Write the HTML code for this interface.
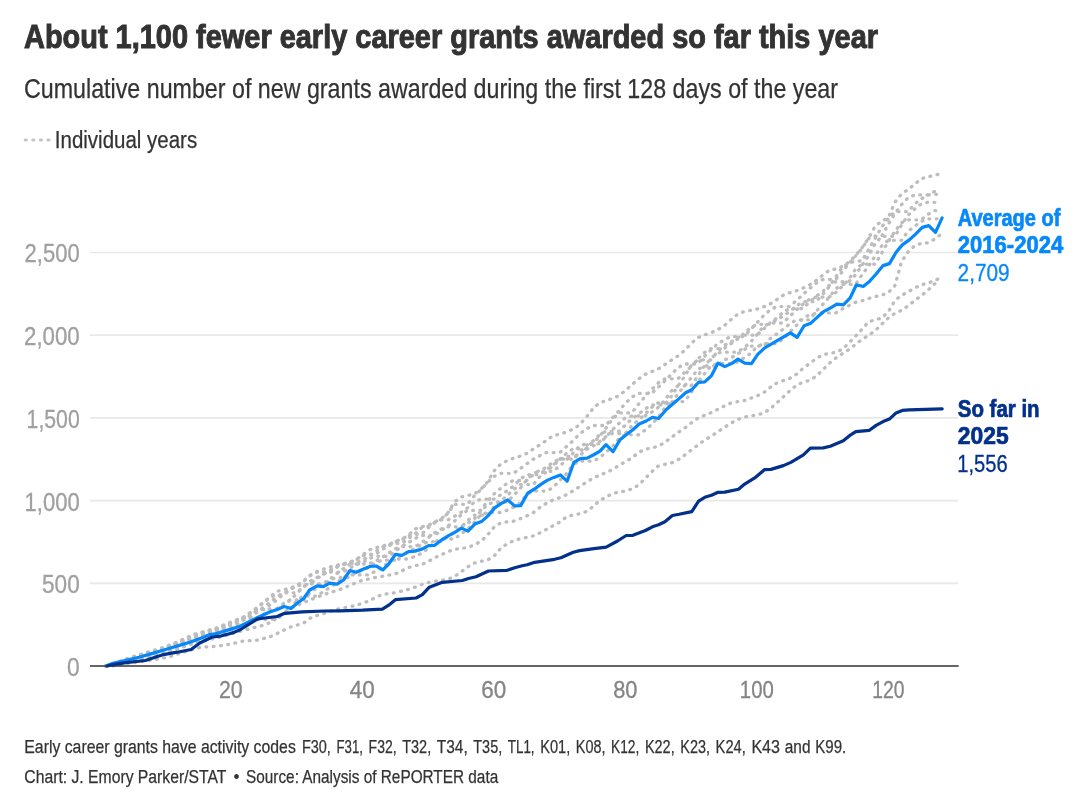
<!DOCTYPE html>
<html><head><meta charset="utf-8"><title>Early career grants</title>
<style>
html,body{margin:0;padding:0;background:#fff;}
body{width:1082px;height:808px;overflow:hidden;font-family:"Liberation Sans",sans-serif;}
svg{display:block;font-family:"Liberation Sans",sans-serif;will-change:transform;}
</style></head><body>
<svg width="1082" height="808" viewBox="0 0 1082 808">
<rect width="1082" height="808" fill="#fff"/>
<g id="grid"><line x1="90" x2="958" y1="583.30" y2="583.30" stroke="#e8e8e8" stroke-width="1.7"/><line x1="90" x2="958" y1="500.60" y2="500.60" stroke="#e8e8e8" stroke-width="1.7"/><line x1="90" x2="958" y1="417.90" y2="417.90" stroke="#e8e8e8" stroke-width="1.7"/><line x1="90" x2="958" y1="335.20" y2="335.20" stroke="#e8e8e8" stroke-width="1.7"/><line x1="90" x2="958" y1="252.50" y2="252.50" stroke="#e8e8e8" stroke-width="1.7"/></g>
<g id="legend"><line x1="25.3" x2="50" y1="140" y2="140" stroke="#c4c4c4" stroke-width="3.2" stroke-linecap="round" stroke-dasharray="1 6.55"/></g>
<g id="grays"><polyline points="105.9,666.0 112.5,663.7 119.1,661.5 125.6,659.2 132.2,656.9 138.8,654.8 145.4,652.9 151.9,650.9 158.5,649.1 165.1,646.8 171.7,644.3 178.2,641.5 184.8,638.5 191.4,635.5 197.9,633.1 204.5,631.4 211.1,629.6 217.7,627.7 224.2,624.8 230.8,622.0 237.4,619.5 244.0,616.7 250.6,612.2 257.1,607.5 263.7,602.2 270.3,596.6 276.9,591.3 283.4,589.8 290.0,588.4 296.6,585.4 303.1,581.4 309.7,575.4 316.3,571.8 322.9,569.3 329.5,567.1 336.0,565.5 342.6,563.9 349.2,562.5 355.8,559.6 362.3,555.3 368.9,550.1 375.5,547.8 382.1,546.0 388.6,544.7 395.2,541.5 401.8,539.2 408.4,535.2 414.9,529.1 421.5,526.7 428.1,525.5 434.6,522.0 441.2,518.8 447.8,512.9 454.4,502.0 461.0,497.0 467.5,495.5 474.1,494.1 480.7,489.4 487.2,482.3 493.8,471.2 500.4,464.5 507.0,460.7 513.6,458.1 520.1,456.2 526.7,453.5 533.3,449.0 539.9,444.8 546.4,440.4 553.0,435.7 559.6,434.2 566.1,432.1 572.7,429.3 579.3,425.0 585.9,417.8 592.5,409.2 599.0,403.1 605.6,400.8 612.2,398.6 618.8,395.8 625.3,390.6 631.9,384.6 638.5,379.0 645.0,374.5 651.6,371.7 658.2,368.9 664.8,364.6 671.4,360.1 677.9,356.0 684.5,350.6 691.1,343.6 697.6,337.9 704.2,335.0 710.8,332.9 717.4,329.9 724.0,325.8 730.5,320.1 737.1,314.6 743.7,311.7 750.2,310.4 756.8,309.1 763.4,307.0 770.0,304.0 776.5,299.8 783.1,295.4 789.7,292.7 796.3,290.9 802.9,288.2 809.4,284.9 816.0,280.6 822.6,275.2 829.1,270.4 835.7,269.0 842.3,266.5 848.9,262.2 855.5,255.6 862.0,247.8 868.6,238.1 875.2,226.1 881.8,221.2 888.3,217.8 894.9,202.2 901.5,194.0 908.0,189.5 914.6,184.4 921.2,178.7 927.8,176.8 934.4,175.2 940.9,173.8" fill="none" stroke="#bdbdbd" stroke-width="3.3" stroke-linecap="round" stroke-linejoin="round" stroke-dasharray="0.8 6.5"/><polyline points="105.9,666.0 112.5,664.2 119.1,662.0 125.6,659.7 132.2,657.4 138.8,655.3 145.4,653.5 151.9,651.4 158.5,649.6 165.1,647.3 171.7,644.8 178.2,642.0 184.8,639.0 191.4,636.9 197.9,633.6 204.5,631.9 211.1,630.1 217.7,628.2 224.2,625.3 230.8,622.5 237.4,620.0 244.0,617.2 250.6,612.7 257.1,608.0 263.7,602.7 270.3,597.1 276.9,594.9 283.4,594.9 290.0,589.5 296.6,585.9 303.1,581.9 309.7,575.9 316.3,572.3 322.9,572.0 329.5,572.0 336.0,567.6 342.6,564.4 349.2,563.0 355.8,560.1 362.3,555.8 368.9,554.3 375.5,554.3 382.1,549.9 388.6,545.6 395.2,542.0 401.8,539.7 408.4,535.7 414.9,534.3 421.5,534.3 428.1,528.0 434.6,522.5 441.2,519.3 447.8,513.4 454.4,504.3 461.0,504.3 467.5,504.3 474.1,496.1 480.7,489.9 487.2,482.8 493.8,476.5 500.4,473.3 507.0,473.3 513.6,473.3 520.1,468.7 526.7,463.9 533.3,459.2 539.9,455.7 546.4,452.6 553.0,452.6 559.6,452.6 566.1,446.9 572.7,441.1 579.3,434.3 585.9,429.3 592.5,425.5 599.0,425.5 605.6,425.5 612.2,418.2 618.8,411.0 625.3,403.3 631.9,397.1 638.5,393.4 645.0,393.4 651.6,393.4 658.2,387.3 664.8,381.0 671.4,374.2 677.9,367.8 684.5,364.0 691.1,364.0 697.6,364.0 704.2,356.6 710.8,350.2 717.4,344.0 724.0,340.0 730.5,336.6 737.1,336.6 743.7,336.6 750.2,330.1 756.8,322.9 763.4,315.8 770.0,310.1 776.5,306.6 783.1,306.6 789.7,306.6 796.3,300.5 802.9,294.6 809.4,288.9 816.0,283.3 822.6,279.5 829.1,279.5 835.7,279.5 842.3,271.8 848.9,263.5 855.5,256.1 862.0,248.3 868.6,238.6 875.2,236.1 881.8,236.1 888.3,224.2 894.9,213.6 901.5,204.7 908.0,197.8 914.6,194.9 921.2,194.9 927.8,194.9 934.4,191.6 940.9,190.9" fill="none" stroke="#bdbdbd" stroke-width="3.3" stroke-linecap="round" stroke-linejoin="round" stroke-dasharray="0.8 6.5"/><polyline points="105.9,666.0 112.5,664.6 119.1,662.4 125.6,660.1 132.2,657.8 138.8,655.7 145.4,653.8 151.9,651.8 158.5,650.0 165.1,647.7 171.7,645.2 178.2,642.4 184.8,639.4 191.4,636.4 197.9,634.0 204.5,632.3 211.1,630.5 217.7,629.0 224.2,625.7 230.8,622.9 237.4,620.4 244.0,617.6 250.6,613.1 257.1,609.5 263.7,609.5 270.3,604.7 276.9,600.0 283.4,594.2 290.0,589.3 296.6,586.3 303.1,584.3 309.7,584.3 316.3,578.9 322.9,574.8 329.5,570.3 336.0,566.4 342.6,564.8 349.2,563.6 355.8,563.6 362.3,560.0 368.9,556.7 375.5,551.7 382.1,546.9 388.6,545.6 395.2,543.4 401.8,543.4 408.4,538.6 414.9,533.8 421.5,527.8 428.1,526.4 434.6,522.9 441.2,519.9 447.8,519.9 454.4,516.4 461.0,512.3 467.5,507.9 474.1,502.4 480.7,499.1 487.2,499.1 493.8,499.1 500.4,495.0 507.0,490.9 513.6,486.0 520.1,479.3 526.7,474.6 533.3,474.6 539.9,474.6 546.4,469.7 553.0,465.2 559.6,459.4 566.1,453.8 572.7,448.9 579.3,448.9 585.9,448.9 592.5,443.2 599.0,437.3 605.6,428.6 612.2,419.4 618.8,412.9 625.3,412.9 631.9,412.9 638.5,404.2 645.0,396.7 651.6,389.6 658.2,382.9 664.8,378.8 671.4,378.8 677.9,378.8 684.5,372.5 691.1,366.7 697.6,359.3 704.2,352.7 710.8,348.6 717.4,348.6 724.0,348.6 730.5,344.0 737.1,339.5 743.7,333.8 750.2,328.0 756.8,324.3 763.4,324.3 770.0,324.3 776.5,319.7 783.1,316.1 789.7,311.5 796.3,306.1 802.9,301.7 809.4,301.7 816.0,301.7 822.6,294.6 829.1,286.8 835.7,277.1 842.3,267.4 848.9,263.1 855.5,261.0 862.0,261.0 868.6,249.5 875.2,238.2 881.8,226.8 888.3,218.7 894.9,211.6 901.5,211.6 908.0,211.6 914.6,204.2 921.2,198.9 927.8,195.1 934.4,194.3 940.9,194.3" fill="none" stroke="#bdbdbd" stroke-width="3.3" stroke-linecap="round" stroke-linejoin="round" stroke-dasharray="0.8 6.5"/><polyline points="105.9,666.0 112.5,665.0 119.1,662.8 125.6,660.5 132.2,658.2 138.8,656.1 145.4,654.2 151.9,652.2 158.5,650.7 165.1,648.1 171.7,645.6 178.2,642.8 184.8,639.8 191.4,636.8 197.9,635.1 204.5,635.1 211.1,631.7 217.7,629.0 224.2,626.1 230.8,623.3 237.4,620.8 244.0,618.0 250.6,617.3 257.1,612.1 263.7,607.0 270.3,602.2 276.9,596.8 283.4,592.8 290.0,592.8 296.6,592.8 303.1,586.9 309.7,581.5 316.3,577.8 322.9,574.3 329.5,572.1 336.0,572.1 342.6,572.1 349.2,568.6 355.8,564.7 362.3,563.0 368.9,558.8 375.5,556.3 382.1,556.3 388.6,556.3 395.2,551.3 401.8,546.3 408.4,542.7 414.9,538.5 421.5,535.4 428.1,535.4 434.6,535.4 441.2,530.5 447.8,526.1 454.4,521.1 461.0,515.0 467.5,510.4 474.1,510.4 480.7,510.4 487.2,501.5 493.8,494.2 500.4,488.6 507.0,483.3 513.6,480.5 520.1,480.5 526.7,480.5 533.3,474.6 539.9,470.1 546.4,467.5 553.0,462.2 559.6,459.1 566.1,459.1 572.7,459.1 579.3,452.7 585.9,445.7 592.5,441.6 599.0,435.3 605.6,431.3 612.2,431.3 618.8,431.3 625.3,425.1 631.9,418.7 638.5,414.3 645.0,408.9 651.6,404.9 658.2,404.9 664.8,404.9 671.4,396.2 677.9,386.1 684.5,376.5 691.1,365.8 697.6,359.9 704.2,359.9 710.8,359.9 717.4,351.7 724.0,345.4 730.5,342.5 737.1,337.9 743.7,335.2 750.2,335.2 756.8,335.2 763.4,329.3 770.0,323.0 776.5,318.2 783.1,312.2 789.7,308.5 796.3,308.5 802.9,308.5 809.4,302.2 816.0,296.4 822.6,291.6 829.1,285.5 835.7,281.7 842.3,281.7 848.9,281.7 855.5,274.9 862.0,265.3 868.6,255.8 875.2,243.6 881.8,236.3 888.3,236.3 894.9,236.3 901.5,225.1 908.0,215.2 914.6,209.1 921.2,204.1 927.8,202.3 934.4,202.3 940.9,202.3" fill="none" stroke="#bdbdbd" stroke-width="3.3" stroke-linecap="round" stroke-linejoin="round" stroke-dasharray="0.8 6.5"/><polyline points="105.9,666.0 112.5,665.4 119.1,663.2 125.6,660.9 132.2,658.6 138.8,656.5 145.4,654.6 151.9,652.6 158.5,650.8 165.1,648.5 171.7,646.0 178.2,643.2 184.8,642.1 191.4,639.0 197.9,635.9 204.5,633.1 211.1,631.3 217.7,629.4 224.2,628.1 230.8,628.1 237.4,624.2 244.0,619.7 250.6,614.9 257.1,610.5 263.7,608.8 270.3,608.8 276.9,608.8 283.4,605.5 290.0,600.3 296.6,593.8 303.1,587.0 309.7,583.8 316.3,583.8 322.9,583.8 329.5,579.5 336.0,574.1 342.6,569.2 349.2,564.7 355.8,564.0 362.3,564.0 368.9,564.0 375.5,561.1 382.1,557.5 388.6,553.1 395.2,548.6 401.8,546.7 408.4,546.7 414.9,546.7 421.5,542.7 428.1,537.8 434.6,532.8 441.2,529.0 447.8,526.8 454.4,526.8 461.0,526.8 467.5,523.5 474.1,519.1 480.7,511.5 487.2,504.9 493.8,502.0 500.4,502.0 507.0,502.0 513.6,495.5 520.1,488.6 526.7,479.8 533.3,473.2 539.9,471.4 546.4,471.4 553.0,471.4 559.6,466.0 566.1,460.3 572.7,453.6 579.3,446.2 585.9,443.8 592.5,443.8 599.0,443.8 605.6,437.3 612.2,430.1 618.8,423.6 625.3,417.7 631.9,415.9 638.5,415.9 645.0,415.9 651.6,412.2 658.2,407.5 664.8,400.2 671.4,391.0 677.9,385.8 684.5,385.8 691.1,385.8 697.6,376.2 704.2,366.3 710.8,358.7 717.4,353.0 724.0,352.2 730.5,352.2 737.1,352.2 743.7,348.0 750.2,342.6 756.8,334.8 763.4,326.5 770.0,323.0 776.5,323.0 783.1,323.0 789.7,316.4 796.3,310.0 802.9,304.2 809.4,299.3 816.0,297.1 822.6,297.1 829.1,297.1 835.7,292.6 842.3,286.4 848.9,279.2 855.5,269.2 862.0,264.2 868.6,264.2 875.2,264.2 881.8,252.9 888.3,241.6 894.9,231.5 901.5,222.7 908.0,219.8 914.6,219.8 921.2,219.8 927.8,214.4 934.4,210.7 940.9,210.7" fill="none" stroke="#bdbdbd" stroke-width="3.3" stroke-linecap="round" stroke-linejoin="round" stroke-dasharray="0.8 6.5"/><polyline points="105.9,666.0 112.5,665.8 119.1,663.6 125.6,661.3 132.2,659.0 138.8,656.9 145.4,655.0 151.9,653.0 158.5,651.2 165.1,649.4 171.7,646.4 178.2,643.6 184.8,640.6 191.4,637.6 197.9,635.2 204.5,634.4 211.1,634.4 217.7,631.4 224.2,628.5 230.8,624.9 237.4,621.6 244.0,618.8 250.6,618.2 257.1,618.2 263.7,614.1 270.3,611.3 276.9,608.5 283.4,603.6 290.0,599.9 296.6,599.9 303.1,599.9 309.7,593.2 316.3,588.2 322.9,585.0 329.5,580.3 336.0,577.6 342.6,577.6 349.2,577.6 355.8,572.2 362.3,570.4 368.9,567.0 375.5,562.9 382.1,560.2 388.6,560.2 395.2,560.2 401.8,554.8 408.4,551.6 414.9,548.7 421.5,544.6 428.1,541.6 434.6,541.6 441.2,541.6 447.8,536.6 454.4,532.0 461.0,527.2 467.5,520.8 474.1,515.2 480.7,515.2 487.2,515.2 493.8,507.2 500.4,501.8 507.0,495.6 513.6,489.6 520.1,484.6 526.7,484.6 533.3,484.6 539.9,476.5 546.4,472.0 553.0,465.7 559.6,459.8 566.1,456.5 572.7,456.5 579.3,456.5 585.9,449.6 592.5,446.6 599.0,442.2 605.6,436.8 612.2,433.5 618.8,433.5 625.3,433.5 631.9,425.7 638.5,420.1 645.0,414.2 651.6,407.4 658.2,402.9 664.8,402.9 671.4,402.9 677.9,393.9 684.5,386.0 691.1,378.0 697.6,369.6 704.2,366.0 710.8,366.0 717.4,366.0 724.0,359.8 730.5,358.1 737.1,354.4 743.7,349.9 750.2,346.1 756.8,346.1 763.4,346.1 770.0,338.7 776.5,334.2 783.1,329.3 789.7,323.8 796.3,319.9 802.9,319.9 809.4,319.9 816.0,311.5 822.6,304.6 829.1,297.3 835.7,289.0 842.3,284.4 848.9,284.4 855.5,284.4 862.0,274.8 868.6,266.1 875.2,255.9 881.8,245.7 888.3,240.3 894.9,240.3 901.5,240.3 908.0,231.3 914.6,226.4 921.2,221.5 927.8,218.8 934.4,218.8 940.9,218.8" fill="none" stroke="#bdbdbd" stroke-width="3.3" stroke-linecap="round" stroke-linejoin="round" stroke-dasharray="0.8 6.5"/><polyline points="105.9,666.0 112.5,666.0 119.1,664.0 125.6,661.7 132.2,659.4 138.8,657.3 145.4,655.4 151.9,653.4 158.5,651.6 165.1,649.3 171.7,646.8 178.2,646.8 184.8,643.7 191.4,640.4 197.9,637.5 204.5,634.8 211.1,633.4 217.7,633.4 224.2,633.4 230.8,631.1 237.4,628.3 244.0,625.1 250.6,621.5 257.1,619.5 263.7,619.5 270.3,619.5 276.9,618.3 283.4,615.6 290.0,608.8 296.6,600.7 303.1,596.1 309.7,596.1 316.3,596.1 322.9,591.9 329.5,587.8 336.0,583.3 342.6,577.8 349.2,574.9 355.8,574.9 362.3,574.9 368.9,574.9 375.5,571.1 382.1,567.9 388.6,561.9 395.2,559.0 401.8,559.0 408.4,559.0 414.9,556.4 421.5,553.3 428.1,548.3 434.6,542.0 441.2,539.0 447.8,539.0 454.4,539.0 461.0,534.0 467.5,529.3 474.1,522.5 480.7,515.0 487.2,512.5 493.8,512.5 500.4,512.5 507.0,510.3 513.6,507.2 520.1,502.8 526.7,494.5 533.3,491.1 539.9,491.1 546.4,491.1 553.0,487.7 559.6,480.5 566.1,474.1 572.7,465.0 579.3,461.2 585.9,461.2 592.5,461.2 599.0,458.3 605.6,452.5 612.2,446.9 618.8,438.8 625.3,434.8 631.9,434.8 638.5,434.8 645.0,430.2 651.6,424.6 658.2,417.2 664.8,407.7 671.4,401.6 677.9,401.6 684.5,401.6 691.1,392.7 697.6,382.4 704.2,374.1 710.8,366.3 717.4,363.4 724.0,363.4 730.5,363.4 737.1,362.1 743.7,358.0 750.2,353.7 756.8,347.0 763.4,343.7 770.0,343.7 776.5,343.7 783.1,339.3 789.7,332.2 796.3,325.5 802.9,318.4 809.4,314.9 816.0,313.5 822.6,312.7 829.1,312.9 835.7,312.9 842.3,309.0 848.9,305.6 855.5,302.3 862.0,300.8 868.6,298.5 875.2,296.6 881.8,295.2 888.3,292.6 894.9,285.6 901.5,261.7 908.0,252.0 914.6,245.7 921.2,243.4 927.8,242.8 934.4,239.3 940.9,234.4" fill="none" stroke="#bdbdbd" stroke-width="3.3" stroke-linecap="round" stroke-linejoin="round" stroke-dasharray="0.8 6.5"/><polyline points="105.9,666.0 112.5,664.7 119.1,663.3 125.6,662.0 132.2,660.6 138.8,659.3 145.4,658.0 151.9,656.4 158.5,654.5 165.1,652.5 171.7,650.5 178.2,648.5 184.8,646.4 191.4,644.2 197.9,642.1 204.5,640.5 211.1,639.1 217.7,637.8 224.2,636.0 230.8,634.0 237.4,632.0 244.0,630.2 250.6,628.5 257.1,626.9 263.7,625.2 270.3,622.5 276.9,618.1 283.4,612.7 290.0,608.5 296.6,605.5 303.1,602.7 309.7,600.1 316.3,597.5 322.9,595.0 329.5,592.7 336.0,590.7 342.6,588.5 349.2,585.7 355.8,582.8 362.3,580.4 368.9,579.0 375.5,577.5 382.1,576.3 388.6,575.1 395.2,573.9 401.8,570.9 408.4,567.6 414.9,565.6 421.5,564.7 428.1,561.5 434.6,557.8 441.2,554.9 447.8,551.7 454.4,549.3 461.0,548.5 467.5,547.5 474.1,545.0 480.7,541.4 487.2,535.4 493.8,527.5 500.4,523.1 507.0,521.8 513.6,521.2 520.1,518.7 526.7,515.9 533.3,512.6 539.9,507.5 546.4,503.2 553.0,500.0 559.6,497.7 566.1,494.9 572.7,491.1 579.3,486.8 585.9,482.5 592.5,478.5 599.0,475.4 605.6,472.8 612.2,469.6 618.8,465.6 625.3,461.7 631.9,457.9 638.5,452.6 645.0,449.2 651.6,448.1 658.2,446.2 664.8,442.5 671.4,437.4 677.9,432.6 684.5,428.2 691.1,423.0 697.6,418.4 704.2,415.5 710.8,412.8 717.4,409.5 724.0,406.2 730.5,403.2 737.1,401.7 743.7,400.8 750.2,398.4 756.8,396.0 763.4,392.9 770.0,387.6 776.5,383.2 783.1,380.6 789.7,378.4 796.3,374.3 802.9,368.6 809.4,363.6 816.0,358.8 822.6,354.8 829.1,353.4 835.7,352.4 842.3,349.3 848.9,343.0 855.5,336.2 862.0,329.2 868.6,321.8 875.2,319.8 881.8,318.0 888.3,311.8 894.9,300.6 901.5,295.3 908.0,292.0 914.6,288.0 921.2,285.0 927.8,283.0 934.4,280.8 940.9,277.4" fill="none" stroke="#bdbdbd" stroke-width="3.3" stroke-linecap="round" stroke-linejoin="round" stroke-dasharray="0.8 6.5"/><polyline points="105.9,666.0 112.5,665.2 119.1,664.5 125.6,663.7 132.2,662.9 138.8,662.1 145.4,661.1 151.9,660.0 158.5,659.0 165.1,657.7 171.7,656.0 178.2,653.9 184.8,651.9 191.4,649.9 197.9,647.9 204.5,647.0 211.1,646.7 217.7,646.1 224.2,645.1 230.8,644.0 237.4,642.4 244.0,640.9 250.6,640.6 257.1,640.2 263.7,638.5 270.3,636.6 276.9,633.6 283.4,630.4 290.0,627.2 296.6,625.2 303.1,623.5 309.7,618.4 316.3,615.7 322.9,613.8 329.5,611.7 336.0,609.6 342.6,608.1 349.2,606.8 355.8,605.4 362.3,603.4 368.9,601.0 375.5,597.4 382.1,594.5 388.6,593.7 395.2,592.7 401.8,591.1 408.4,589.4 414.9,587.3 421.5,584.7 428.1,582.7 434.6,581.3 441.2,580.5 447.8,579.2 454.4,576.6 461.0,572.0 467.5,567.1 474.1,563.1 480.7,561.4 487.2,560.1 493.8,556.4 500.4,548.7 507.0,543.9 513.6,540.8 520.1,538.8 526.7,537.4 533.3,535.9 539.9,532.9 546.4,529.4 553.0,525.8 559.6,522.2 566.1,517.2 572.7,515.0 579.3,513.8 585.9,511.7 592.5,507.0 599.0,501.1 605.6,497.1 612.2,493.9 618.8,491.9 625.3,491.2 631.9,488.9 638.5,485.1 645.0,478.7 651.6,471.9 658.2,466.1 664.8,464.3 671.4,462.9 677.9,459.9 684.5,455.3 691.1,450.0 697.6,445.3 704.2,440.3 710.8,436.5 717.4,432.0 724.0,427.6 730.5,423.5 737.1,419.7 743.7,417.3 750.2,416.0 756.8,414.9 763.4,413.3 770.0,409.0 776.5,403.2 783.1,397.0 789.7,390.9 796.3,385.4 802.9,382.2 809.4,380.4 816.0,376.3 822.6,370.0 829.1,363.6 835.7,358.1 842.3,353.7 848.9,349.6 855.5,344.4 862.0,339.4 868.6,335.4 875.2,330.7 881.8,324.2 888.3,318.0 894.9,313.4 901.5,310.4 908.0,305.9 914.6,300.6 921.2,295.8 927.8,290.3 934.4,283.9 940.9,282.9" fill="none" stroke="#bdbdbd" stroke-width="3.3" stroke-linecap="round" stroke-linejoin="round" stroke-dasharray="0.8 6.5"/></g>
<line x1="90" x2="958.7" y1="666" y2="666" stroke="#333" stroke-width="1.4"/>
<polyline points="107.0,665.6 113.0,663.3 126.0,660.2 139.0,657.2 151.7,653.6 164.7,649.8 177.6,645.9 190.6,642.0 203.5,637.2 210.0,634.5 216.4,633.5 229.4,629.6 240.0,626.3 257.7,617.5 269.7,612.0 277.2,609.5 284.2,606.5 290.9,608.5 297.1,603.3 303.4,598.8 309.6,590.0 317.1,585.8 323.3,586.6 329.6,583.1 337.1,584.1 343.5,580.0 350.0,570.5 356.2,572.3 363.0,569.3 370.0,566.5 376.2,566.0 382.9,569.8 388.7,564.0 395.4,554.3 401.9,555.3 408.6,551.6 414.9,551.1 421.9,549.1 428.6,545.6 434.8,545.3 441.8,539.8 448.6,535.6 454.8,532.3 461.5,528.1 468.0,531.1 474.8,524.1 481.5,521.6 487.7,516.1 494.7,507.9 501.0,503.6 507.7,499.9 514.7,505.9 520.7,505.6 527.7,493.2 534.2,489.2 540.9,484.4 547.1,480.4 553.9,477.4 560.4,474.9 567.1,481.2 573.8,462.5 580.3,458.7 587.1,458.2 593.3,455.0 600.0,451.1 606.0,444.6 613.0,451.7 620.0,439.7 626.2,434.7 632.9,429.8 639.2,424.0 646.2,421.0 652.4,417.3 658.6,418.5 666.1,409.8 672.4,404.3 679.1,398.6 685.6,392.8 691.8,389.8 698.6,382.3 704.8,381.8 711.5,375.6 718.0,363.1 724.8,366.6 731.5,363.6 738.0,359.1 744.7,363.1 751.5,363.6 757.7,354.4 764.7,347.9 777.2,340.7 790.4,332.9 797.1,337.4 804.1,325.7 810.9,323.2 817.1,317.4 823.5,311.7 830.2,308.1 836.8,304.2 843.3,304.8 850.0,298.2 856.4,284.8 863.2,286.5 869.4,281.5 876.1,274.0 883.1,265.6 889.4,263.6 896.1,252.3 902.3,244.9 909.3,239.9 915.6,234.1 922.3,227.4 928.8,225.6 935.5,232.4 942.1,217.9" fill="none" stroke="#0688fa" stroke-width="3.2" stroke-linejoin="round" stroke-linecap="round"/>
<polyline points="107.0,666.0 113.0,664.6 125.9,662.7 145.3,660.5 158.2,656.2 164.7,654.3 177.3,652.2 191.1,649.5 199.8,643.0 212.3,637.0 219.8,636.2 232.2,633.0 239.7,630.0 257.7,618.8 264.7,618.0 277.2,616.5 284.7,613.3 302.1,611.8 324.6,611.0 340.0,610.8 362.5,610.2 382.4,609.2 388.7,605.2 395.4,599.7 416.1,598.0 422.4,594.7 429.3,587.2 442.3,582.3 462.3,580.5 468.5,578.5 476.0,576.8 488.5,571.0 507.2,570.3 514.7,567.8 522.2,565.8 527.2,564.8 534.7,562.3 554.6,559.3 560.9,557.8 573.3,552.3 579.6,550.6 592.1,548.8 606.2,547.2 617.5,541.0 626.2,535.5 632.9,535.3 645.4,530.5 652.4,526.8 658.6,524.8 664.9,521.8 672.4,515.5 679.1,514.3 691.8,511.6 698.6,501.1 704.8,497.3 711.5,495.3 718.0,492.3 724.8,492.1 738.5,489.3 744.7,484.1 754.7,477.9 764.7,469.6 770.9,469.4 783.4,465.6 790.9,462.4 803.4,454.9 810.4,448.2 823.3,447.9 830.3,446.2 843.3,440.7 849.5,435.7 855.8,431.7 869.4,430.3 876.1,425.4 883.1,421.6 889.4,419.1 896.1,412.9 902.3,410.4 909.3,409.9 942.2,408.8" fill="none" stroke="#02308a" stroke-width="3.2" stroke-linejoin="round" stroke-linecap="round"/>
<g id="labels">
<text x="24.00" y="47.70" font-size="32.56" font-weight="700" fill="#333" stroke="#333" stroke-width="1.0" stroke-linejoin="miter" textLength="854.00" lengthAdjust="spacingAndGlyphs">About 1,100 fewer early career grants awarded so far this year</text>
<text x="24.00" y="97.80" font-size="27.98" font-weight="400" fill="#333" stroke="#333" stroke-width="0.25" stroke-linejoin="miter" textLength="814.00" lengthAdjust="spacingAndGlyphs">Cumulative number of new grants awarded during the first 128 days of the year</text>
<text x="54.80" y="148.00" font-size="23.47" font-weight="400" fill="#333" stroke="#333" stroke-width="0.25" stroke-linejoin="miter" textLength="142.40" lengthAdjust="spacingAndGlyphs">Individual years</text>
<text x="67.00" y="675.90" font-size="24.85" font-weight="400" fill="#a0a0a0" stroke="#a0a0a0" stroke-width="0.3" stroke-linejoin="miter" textLength="12.70" lengthAdjust="spacingAndGlyphs">0</text>
<text x="42.00" y="593.20" font-size="24.85" font-weight="400" fill="#a0a0a0" stroke="#a0a0a0" stroke-width="0.3" stroke-linejoin="miter" textLength="37.70" lengthAdjust="spacingAndGlyphs">500</text>
<text x="24.60" y="510.50" font-size="24.85" font-weight="400" fill="#a0a0a0" stroke="#a0a0a0" stroke-width="0.3" stroke-linejoin="miter" textLength="55.10" lengthAdjust="spacingAndGlyphs">1,000</text>
<text x="26.60" y="427.80" font-size="24.85" font-weight="400" fill="#a0a0a0" stroke="#a0a0a0" stroke-width="0.3" stroke-linejoin="miter" textLength="53.10" lengthAdjust="spacingAndGlyphs">1,500</text>
<text x="24.10" y="345.10" font-size="24.85" font-weight="400" fill="#a0a0a0" stroke="#a0a0a0" stroke-width="0.3" stroke-linejoin="miter" textLength="55.60" lengthAdjust="spacingAndGlyphs">2,000</text>
<text x="24.60" y="262.40" font-size="24.85" font-weight="400" fill="#a0a0a0" stroke="#a0a0a0" stroke-width="0.3" stroke-linejoin="miter" textLength="55.10" lengthAdjust="spacingAndGlyphs">2,500</text>
<text x="219.02" y="698.00" font-size="23.69" font-weight="400" fill="#858585" stroke="#858585" stroke-width="0.3" stroke-linejoin="miter" textLength="23.60" lengthAdjust="spacingAndGlyphs">20</text>
<text x="349.83" y="698.00" font-size="23.69" font-weight="400" fill="#858585" stroke="#858585" stroke-width="0.3" stroke-linejoin="miter" textLength="25.00" lengthAdjust="spacingAndGlyphs">40</text>
<text x="481.33" y="698.00" font-size="23.69" font-weight="400" fill="#858585" stroke="#858585" stroke-width="0.3" stroke-linejoin="miter" textLength="25.00" lengthAdjust="spacingAndGlyphs">60</text>
<text x="613.18" y="698.00" font-size="23.69" font-weight="400" fill="#858585" stroke="#858585" stroke-width="0.3" stroke-linejoin="miter" textLength="24.30" lengthAdjust="spacingAndGlyphs">80</text>
<text x="739.83" y="698.00" font-size="23.69" font-weight="400" fill="#858585" stroke="#858585" stroke-width="0.3" stroke-linejoin="miter" textLength="34.00" lengthAdjust="spacingAndGlyphs">100</text>
<text x="872.23" y="698.00" font-size="23.69" font-weight="400" fill="#858585" stroke="#858585" stroke-width="0.3" stroke-linejoin="miter" textLength="32.20" lengthAdjust="spacingAndGlyphs">120</text>
<text x="957.80" y="225.70" font-size="23.55" font-weight="700" fill="#0688fa" stroke="#0688fa" stroke-width="0.7" stroke-linejoin="miter" textLength="102.50" lengthAdjust="spacingAndGlyphs">Average of</text>
<text x="957.80" y="253.30" font-size="23.55" font-weight="700" fill="#0688fa" stroke="#0688fa" stroke-width="0.7" stroke-linejoin="miter" textLength="105.40" lengthAdjust="spacingAndGlyphs">2016-2024</text>
<text x="957.60" y="281.40" font-size="23.98" font-weight="400" fill="#0688fa" stroke="#0688fa" stroke-width="0.3" stroke-linejoin="miter" textLength="52.00" lengthAdjust="spacingAndGlyphs">2,709</text>
<text x="957.80" y="416.50" font-size="23.55" font-weight="700" fill="#02308a" stroke="#02308a" stroke-width="0.7" stroke-linejoin="miter" textLength="81.80" lengthAdjust="spacingAndGlyphs">So far in</text>
<text x="957.80" y="444.40" font-size="23.55" font-weight="700" fill="#02308a" stroke="#02308a" stroke-width="0.7" stroke-linejoin="miter" textLength="50.80" lengthAdjust="spacingAndGlyphs">2025</text>
<text x="957.20" y="472.40" font-size="23.98" font-weight="400" fill="#02308a" stroke="#02308a" stroke-width="0.3" stroke-linejoin="miter" textLength="50.40" lengthAdjust="spacingAndGlyphs">1,556</text>
<text x="24.30" y="752.60" font-size="18.24" font-weight="400" fill="#333" stroke="#333" stroke-width="0.25" stroke-linejoin="miter" textLength="271.50" lengthAdjust="spacingAndGlyphs">Early career grants have activity codes</text>
<text x="301.90" y="752.60" font-size="18.24" font-weight="400" fill="#333" stroke="#333" stroke-width="0.25" stroke-linejoin="miter" textLength="29.00" lengthAdjust="spacingAndGlyphs">F30,</text>
<text x="336.50" y="752.60" font-size="18.24" font-weight="400" fill="#333" stroke="#333" stroke-width="0.25" stroke-linejoin="miter" textLength="26.50" lengthAdjust="spacingAndGlyphs">F31,</text>
<text x="368.60" y="752.60" font-size="18.24" font-weight="400" fill="#333" stroke="#333" stroke-width="0.25" stroke-linejoin="miter" textLength="28.00" lengthAdjust="spacingAndGlyphs">F32,</text>
<text x="402.20" y="752.60" font-size="18.24" font-weight="400" fill="#333" stroke="#333" stroke-width="0.25" stroke-linejoin="miter" textLength="29.00" lengthAdjust="spacingAndGlyphs">T32,</text>
<text x="436.80" y="752.60" font-size="18.24" font-weight="400" fill="#333" stroke="#333" stroke-width="0.25" stroke-linejoin="miter" textLength="30.90" lengthAdjust="spacingAndGlyphs">T34,</text>
<text x="473.30" y="752.60" font-size="18.24" font-weight="400" fill="#333" stroke="#333" stroke-width="0.25" stroke-linejoin="miter" textLength="28.90" lengthAdjust="spacingAndGlyphs">T35,</text>
<text x="507.80" y="752.60" font-size="18.24" font-weight="400" fill="#333" stroke="#333" stroke-width="0.25" stroke-linejoin="miter" textLength="26.80" lengthAdjust="spacingAndGlyphs">TL1,</text>
<text x="540.20" y="752.60" font-size="18.24" font-weight="400" fill="#333" stroke="#333" stroke-width="0.25" stroke-linejoin="miter" textLength="30.00" lengthAdjust="spacingAndGlyphs">K01,</text>
<text x="575.80" y="752.60" font-size="18.24" font-weight="400" fill="#333" stroke="#333" stroke-width="0.25" stroke-linejoin="miter" textLength="29.60" lengthAdjust="spacingAndGlyphs">K08,</text>
<text x="611.00" y="752.60" font-size="18.24" font-weight="400" fill="#333" stroke="#333" stroke-width="0.25" stroke-linejoin="miter" textLength="28.30" lengthAdjust="spacingAndGlyphs">K12,</text>
<text x="644.90" y="752.60" font-size="18.24" font-weight="400" fill="#333" stroke="#333" stroke-width="0.25" stroke-linejoin="miter" textLength="29.80" lengthAdjust="spacingAndGlyphs">K22,</text>
<text x="680.30" y="752.60" font-size="18.24" font-weight="400" fill="#333" stroke="#333" stroke-width="0.25" stroke-linejoin="miter" textLength="29.70" lengthAdjust="spacingAndGlyphs">K23,</text>
<text x="715.60" y="752.60" font-size="18.24" font-weight="400" fill="#333" stroke="#333" stroke-width="0.25" stroke-linejoin="miter" textLength="30.20" lengthAdjust="spacingAndGlyphs">K24,</text>
<text x="751.40" y="752.60" font-size="18.24" font-weight="400" fill="#333" stroke="#333" stroke-width="0.25" stroke-linejoin="miter" textLength="28.60" lengthAdjust="spacingAndGlyphs">K43</text>
<text x="784.80" y="752.60" font-size="18.24" font-weight="400" fill="#333" stroke="#333" stroke-width="0.25" stroke-linejoin="miter" textLength="25.70" lengthAdjust="spacingAndGlyphs">and</text>
<text x="815.30" y="752.60" font-size="18.24" font-weight="400" fill="#333" stroke="#333" stroke-width="0.25" stroke-linejoin="miter" textLength="31.00" lengthAdjust="spacingAndGlyphs">K99.</text>
<text x="24.30" y="782.60" font-size="18.24" font-weight="400" fill="#333" stroke="#333" stroke-width="0.25" stroke-linejoin="miter" textLength="202.10" lengthAdjust="spacingAndGlyphs">Chart: J. Emory Parker/STAT</text>
<text x="233.60" y="782.60" font-size="18.60" font-weight="400" fill="#333" stroke="#333" stroke-width="0" stroke-linejoin="miter" textLength="6.00" lengthAdjust="spacingAndGlyphs">•</text>
<text x="246.00" y="782.60" font-size="18.24" font-weight="400" fill="#333" stroke="#333" stroke-width="0.25" stroke-linejoin="miter" textLength="252.20" lengthAdjust="spacingAndGlyphs">Source: Analysis of RePORTER data</text>
</g>
</svg>
</body></html>
